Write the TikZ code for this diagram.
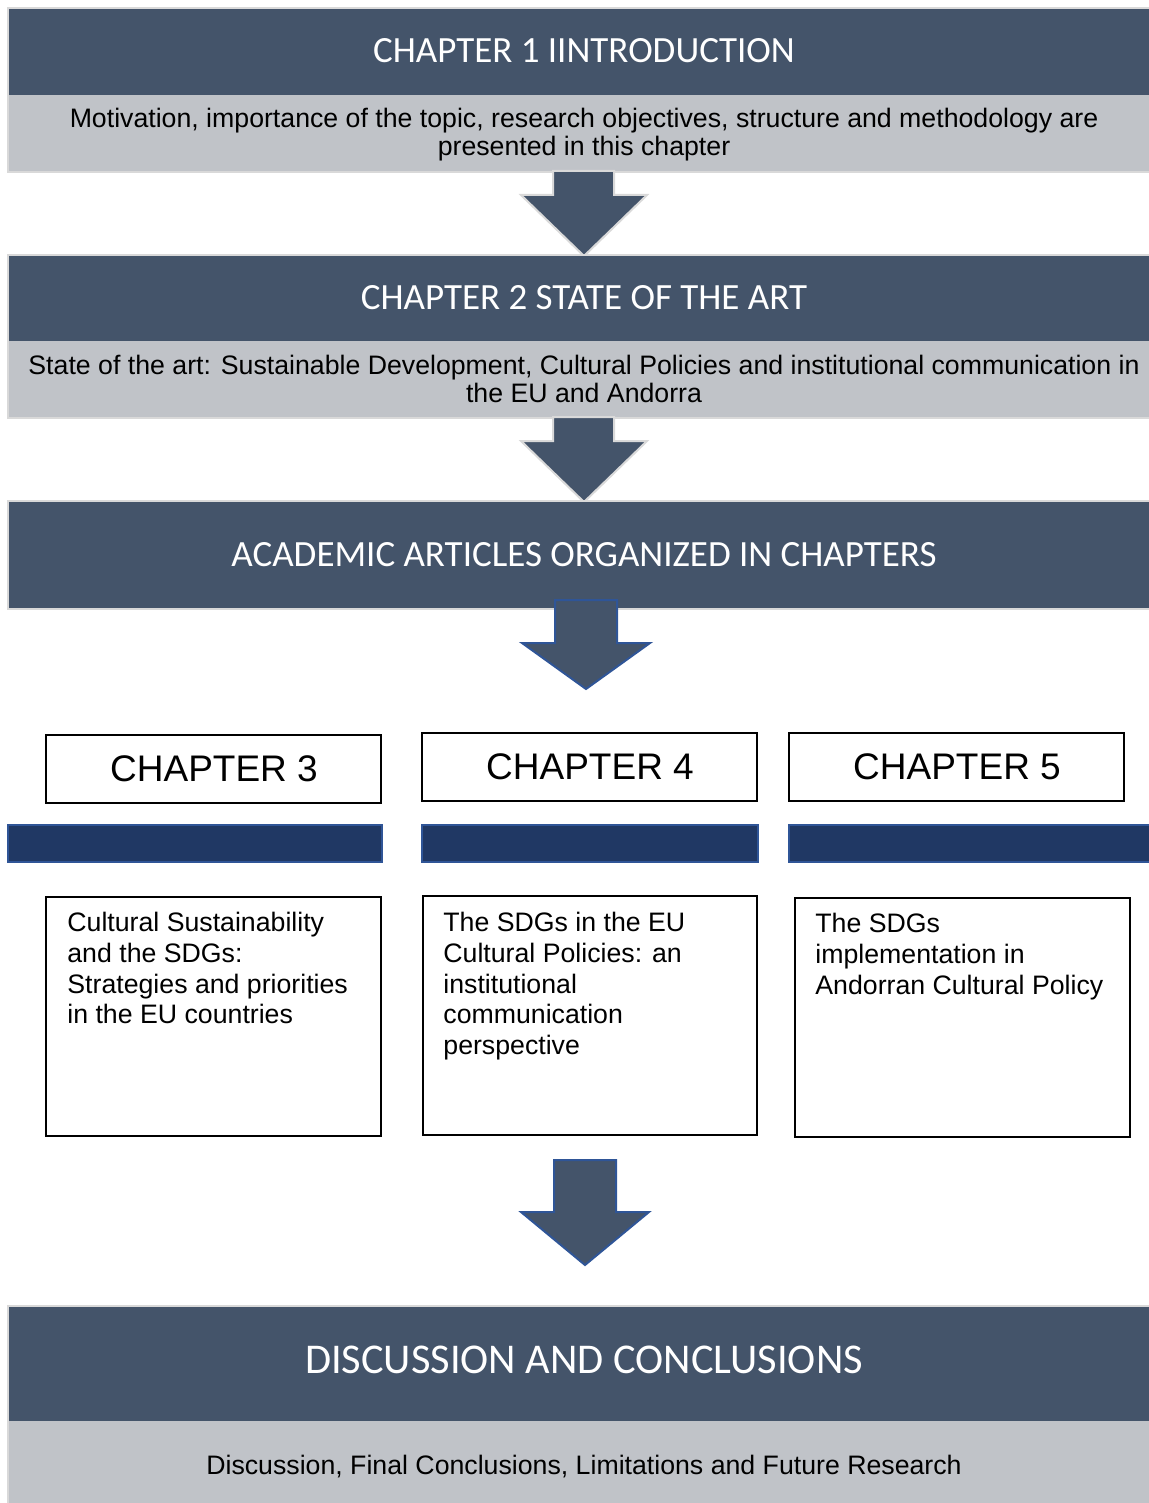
\documentclass[tikz,border=0pt]{standalone}
\usepackage{fontspec}
\setmainfont{Liberation Sans}
\newfontfamily\headfont{Carlito}
\definecolor{slate}{HTML}{44546A}
\definecolor{band}{HTML}{C0C3C8}
\definecolor{rim}{HTML}{D9D9D9}
\definecolor{navy}{HTML}{203864}
\definecolor{navyrim}{HTML}{2F5597}
\begin{document}
\begin{tikzpicture}[x=0.5pt,y=-0.5pt,
  headtext/.style={text=white, font=\headfont\fontsize{18.5}{22}\selectfont, inner sep=0pt, anchor=base},
  bandtext/.style={font=\fontsize{13.35}{14}\selectfont, align=center, inner sep=0pt},
  chaptext/.style={font=\fontsize{18.5}{22}\selectfont, inner sep=0pt, anchor=base},
  boxtext/.style={font=\fontsize{13.35}{15.35}\selectfont, align=left, inner sep=0pt, anchor=north west},
  darrow/.style={fill=slate, draw=rim, line width=1pt},
  barrow/.style={fill=slate, draw=navyrim, line width=1pt},
  bar/.style={fill=navy, draw=navyrim, line width=1pt},
  frame/.style={draw=black, line width=0.6pt}]
 \useasboundingbox (0,0) rectangle (1149,1503);

 % chapter 1
 \draw[rim, line width=1pt] (8,8) rectangle (1152,172);
 \fill[slate] (9,9) rectangle (1149,95);
 \fill[band] (9,95) rectangle (1149,171);
 \node[headtext] (intro) at (584,63) {CHAPTER 1 IINTRODUCTION};
 \node[bandtext] (introtext) at (584,135) {Motivation, importance of the topic, research objectives, structure and methodology are\\presented in this chapter};
 \draw[darrow] (553,171) -- (553,195) -- (521,195) -- (584,256) -- (647,195) -- (614,195) -- (614,171) -- cycle;

 % chapter 2
 \draw[rim, line width=1pt] (8,255) rectangle (1152,418);
 \fill[slate] (9,256) rectangle (1149,341);
 \fill[band] (9,341) rectangle (1149,417);
 \node[headtext] (stateart) at (584,309) {CHAPTER 2 STATE OF THE ART};
 \node[bandtext] (statetext) at (584,379) {State of the art: Sustainable Development, Cultural Policies and institutional communication in\\the EU and Andorra};
 \draw[darrow] (553,417) -- (553,441) -- (521,441) -- (584,502) -- (647,441) -- (614,441) -- (614,417) -- cycle;

 % articles
 \draw[rim, line width=1pt] (8,501) rectangle (1152,609);
 \fill[slate] (9,502) rectangle (1149,608);
 \node[headtext] (articles) at (584,566) {ACADEMIC ARTICLES ORGANIZED IN CHAPTERS};
 \draw[barrow] (555,600) -- (555,643) -- (522,643) -- (586,689) -- (650,643) -- (617,643) -- (617,600) -- cycle;

 % chapters 3, 4, 5
 \draw[frame] (46,735) rectangle (381,803);
 \draw[frame] (422,733) rectangle (757,801);
 \draw[frame] (789,733) rectangle (1124,801);
 \node[chaptext] (ch3) at (214,781) {CHAPTER 3};
 \node[chaptext] (ch4) at (590,779) {CHAPTER 4};
 \node[chaptext] (ch5) at (957,779) {CHAPTER 5};

 \draw[bar] (8,825) rectangle (382,862);
 \draw[bar] (422,825) rectangle (758,862);
 \draw[bar] (789,825) rectangle (1152,862);

 \draw[frame] (46,897) rectangle (381,1136);
 \draw[frame] (423,896) rectangle (757,1135);
 \draw[frame] (795,898) rectangle (1130,1137);
 \node[boxtext] (ch3text) at (67,912) {Cultural Sustainability\\and the SDGs:\\Strategies and priorities\\in the EU countries};
 \node[boxtext] (ch4text) at (443,912) {The SDGs in the EU\\Cultural Policies: an\\institutional\\communication\\perspective};
 \node[boxtext] (ch5text) at (815,913) {The SDGs\\implementation in\\Andorran Cultural Policy};

 \draw[barrow] (554,1160) -- (554,1212) -- (521,1212) -- (585,1265) -- (649,1212) -- (616,1212) -- (616,1160) -- cycle;

 % discussion
 \draw[rim, line width=1pt] (8,1306) rectangle (1152,1506);
 \fill[slate] (9,1307) rectangle (1149,1421);
 \fill[band] (9,1421) rectangle (1149,1503);
 \node[headtext, font=\headfont\fontsize{21.2}{25}\selectfont] (disc) at (584,1373) {DISCUSSION AND CONCLUSIONS};
 \node[bandtext] (disctext) at (584,1467) {Discussion, Final Conclusions, Limitations and Future Research};
\end{tikzpicture}
\end{document}
